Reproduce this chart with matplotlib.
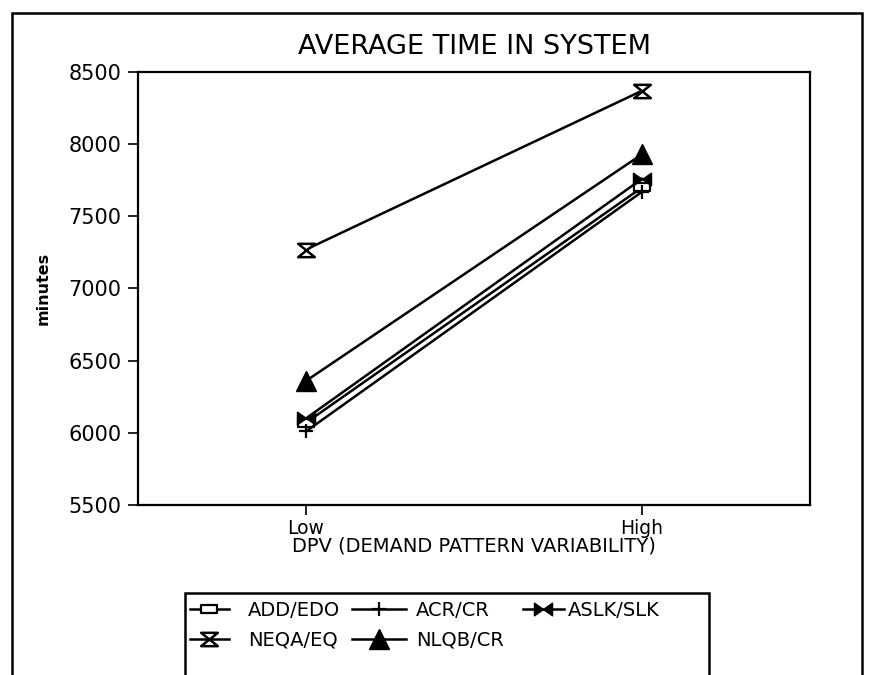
import matplotlib
matplotlib.use("Agg")
import matplotlib.pyplot as plt
from matplotlib.path import Path
from matplotlib.patches import Rectangle

categories = ["Low", "High"]
add_edo = [6070, 7700]
acr_cr = [6010, 7670]
aslk_slk = [6100, 7760]
neqa_eq = [7270, 8370]
nlqb_cr = [6360, 7930]
yticks = [5500, 6000, 6500, 7000, 7500, 8000, 8500]

plt.rcParams['font.family'] = ['DejaVu Sans']

fig = plt.figure(figsize=(8.74, 6.75), dpi=100)
ax = fig.add_axes([138/874, 1-505/675, (810-138)/874, (505-72)/675])

bowtie = Path([(-1, -0.7), (-1, 0.7), (1, -0.7), (1, 0.7), (-1, -0.7)],
              [Path.MOVETO, Path.LINETO, Path.LINETO, Path.LINETO, Path.CLOSEPOLY])
hourglass = Path([(-1, 0.8), (1, 0.8), (-1, -0.8), (1, -0.8), (-1, 0.8)],
                 [Path.MOVETO, Path.LINETO, Path.LINETO, Path.LINETO, Path.CLOSEPOLY])
wide_rect = Path([(-1, -0.55), (1, -0.55), (1, 0.55), (-1, 0.55), (-1, -0.55)],
                 [Path.MOVETO, Path.LINETO, Path.LINETO, Path.LINETO, Path.CLOSEPOLY])

x = [1, 2]
lw = 1.8
series = [
    ("ADD/EDO", add_edo, dict(marker=wide_rect, markersize=11, markerfacecolor='white', markeredgewidth=1.6)),
    ("ACR/CR", acr_cr, dict(marker='+', markersize=10, markeredgewidth=1.6)),
    ("ASLK/SLK", aslk_slk, dict(marker=bowtie, markersize=13, markerfacecolor='black', markeredgewidth=1.0)),
    ("NEQA/EQ", neqa_eq, dict(marker=hourglass, markersize=12, markerfacecolor='white', markeredgewidth=1.8)),
    ("NLQB/CR", nlqb_cr, dict(marker='^', markersize=14, markerfacecolor='black', markeredgewidth=1.0)),
]
handles = {}
for name, vals, kw in series:
    h, = ax.plot(x, vals, color='black', lw=lw, markeredgecolor='black', label=name, **kw)
    handles[name] = h

ax.set_xlim(0.5, 2.5)
ax.set_ylim(5500, 8500)
ax.set_xticks(x)
ax.set_xticklabels(categories, fontsize=13.5)
ax.set_yticks(yticks)
ax.set_yticklabels([str(v) for v in yticks], fontsize=15)
ax.tick_params(axis='both', direction='out', length=7, width=1.2, colors='black')
ax.tick_params(axis='x', pad=3)
ax.tick_params(axis='y', pad=5)
for s in ax.spines.values():
    s.set_linewidth(1.6)

ax.set_title("AVERAGE TIME IN SYSTEM", fontsize=19.5, pad=13)
ax.set_ylabel("minutes", fontsize=11.5, fontweight='bold', labelpad=13)
ax.set_xlabel("DPV (DEMAND PATTERN VARIABILITY)", fontsize=14, labelpad=-1)

# outer frame
fig.patches.append(Rectangle((12/874, -0.05), (862-12)/874, 1.05 - 13/675,
                             transform=fig.transFigure, fill=False, lw=1.8,
                             edgecolor='black', clip_on=False))
# legend frame
fig.patches.append(Rectangle((185/874, -0.05), (709-185)/874, 0.05 + (1-593/675),
                             transform=fig.transFigure, fill=False, lw=1.8,
                             edgecolor='black', clip_on=False))

columns = [
    (["ADD/EDO", "NEQA/EQ"], 190, 2.0, 1.0),
    (["ACR/CR", "NLQB/CR"], 352, 2.8, 0.5),
    (["ASLK/SLK"], 523, 2.1, 0.2),
]
for names, xpix, hl, tp in columns:
    fig.legend(handles=[handles[n] for n in names], loc='upper left',
               bbox_to_anchor=(xpix/874, 1-601/675),
               ncol=1, frameon=False, fontsize=14, handlelength=hl,
               handletextpad=tp, labelspacing=0.55, borderaxespad=0,
               borderpad=0)

fig.savefig("out.png", dpi=100)
